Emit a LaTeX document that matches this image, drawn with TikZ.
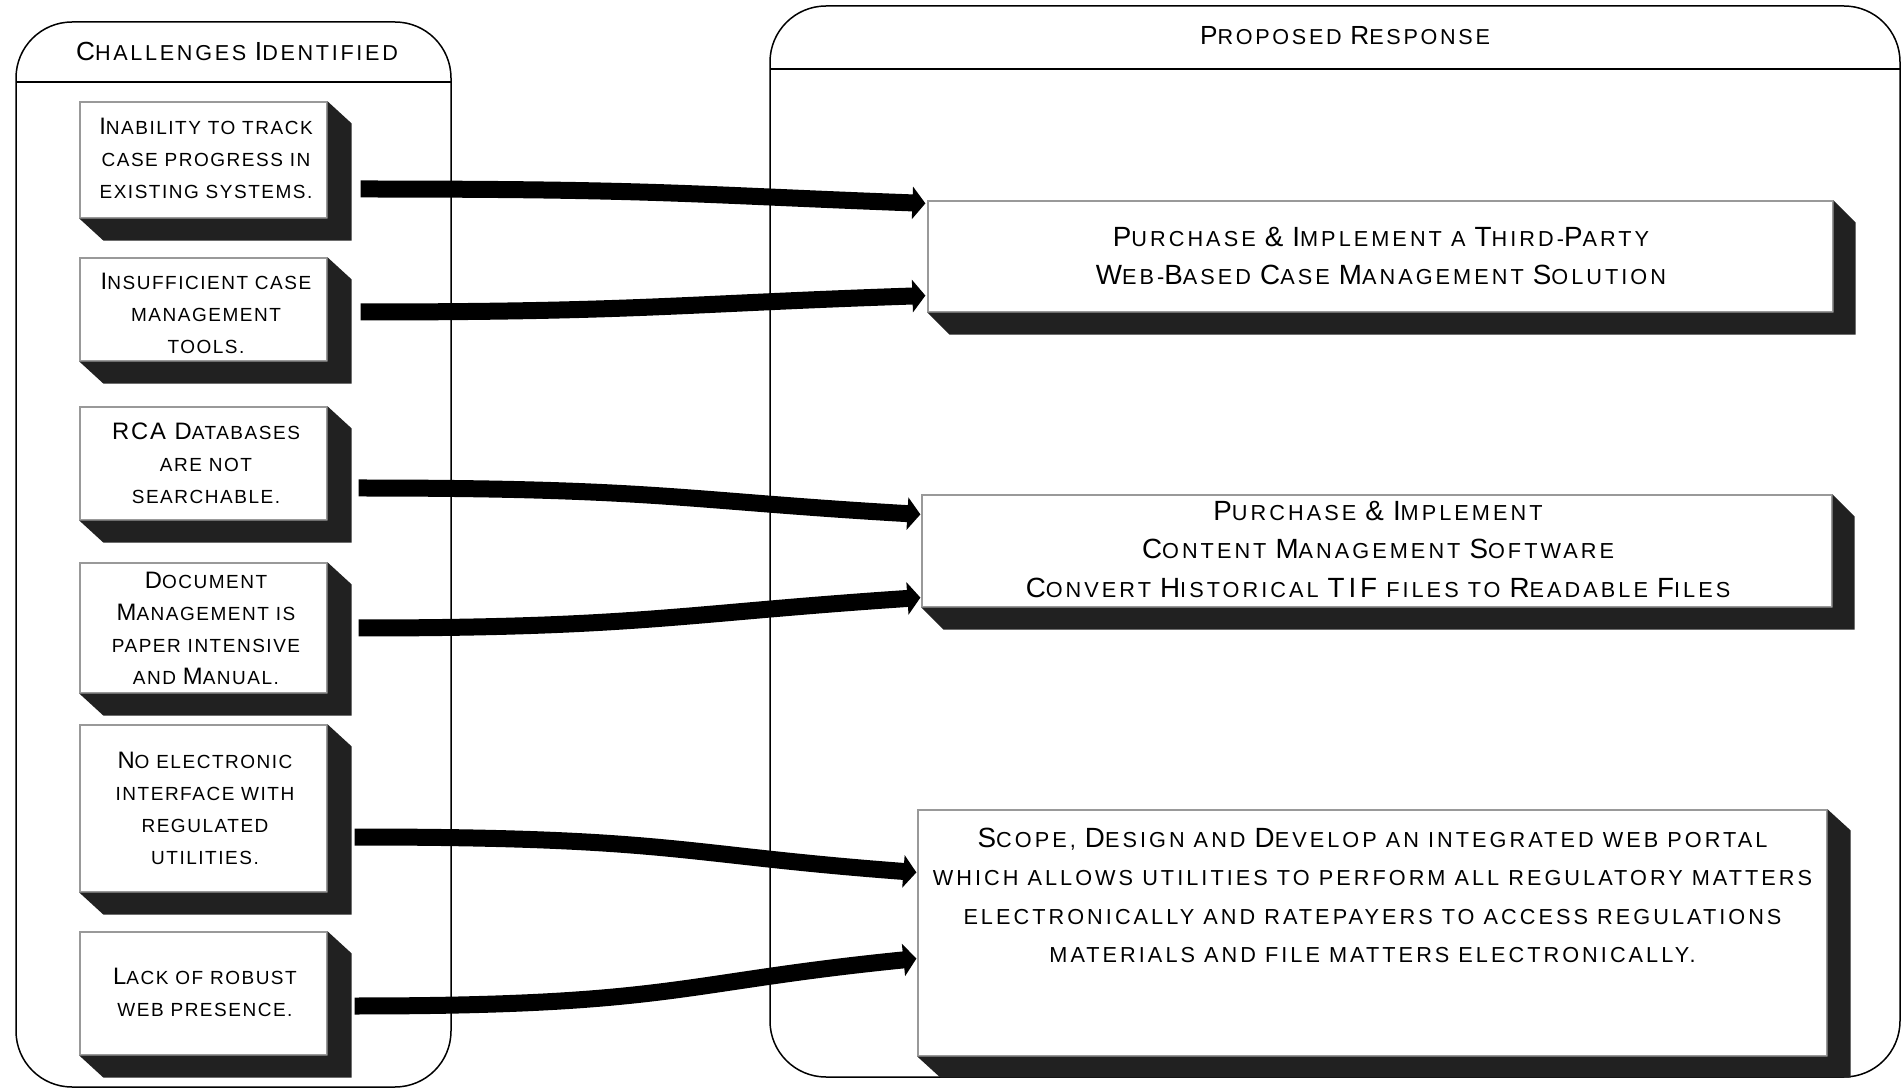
\documentclass[tikz,border=0pt]{standalone}
\usepackage{fontspec}
\setmainfont{Liberation Sans}
\newfontfamily\fLeft[LetterSpace=8]{Liberation Sans}
\newfontfamily\fRight[LetterSpace=14]{Liberation Sans}
\newfontfamily\fTitle[LetterSpace=12.5]{Liberation Sans}
\usetikzlibrary{arrows.meta,calc,fit}
\newcommand\BC[1]{{\fontsize{\bcsz}{\baselineskip}\selectfont #1}}
\def\bcsz{12}
\newcommand\xtbox[3]{%
  \fill[extr] (#1.north east) -- ($(#1.north east)+(#2,#3)$) -- ($(#1.south east)+(#2,#3)$) -- ($(#1.south west)+(#2,#3)$) -- (#1.south west) -- (#1.south east) -- cycle;}
\tikzset{
  panel/.style={draw=black, line width=0.75pt, rounded corners=28pt, inner sep=0pt},
  face/.style={draw=black!40, line width=0.6pt, fill=white, inner sep=0pt},
  lefttext/.style={align=center, font={\fLeft\def\bcsz{11.9}\fontsize{9.5}{16}\selectfont}},
  righttext/.style={align=center, font={\fRight\def\bcsz{13.9}\fontsize{10.85}{19.3}\selectfont}},
  titletext/.style={font={\fTitle\def\bcsz{13.1}\fontsize{10.8}{14}\selectfont}},
  extr/.style={fill=black!87},
  arr/.style={line width=8.5pt, -{Triangle[width=16pt,length=6.5pt]}},
}
\begin{document}
\begin{tikzpicture}[x=0.5pt,y=-0.5pt]
\useasboundingbox (0,0) rectangle (1902,1090);
\fill[white] (0,0) rectangle (1902,1090);
% panels
\node[panel, fit={(16,22) (451,1087)}] (lp) {};
\draw[line width=0.75pt] (16,82) -- (451,82);
\node[titletext] (lt) at (237,51) {\BC{C}HALLENGES \BC{I}DENTIFIED};
\node[panel, fit={(770,6) (1900,1077)}] (rp) {};
\draw[line width=0.75pt] (770,69) -- (1900,69);
\node[titletext] (rt) at (1345,36) {\BC{P}ROPOSED \BC{R}ESPONSE};
% left boxes
\node[face, fit={(80,102) (327,218)}] (b1) {};
\node[face, fit={(80,258) (327,361)}] (b2) {};
\node[face, fit={(80,407) (327,520)}] (b3) {};
\node[face, fit={(80,563) (327,693)}] (b4) {};
\node[face, fit={(80,725) (327,892)}] (b5) {};
\node[face, fit={(80,932) (327,1055)}] (b6) {};
\foreach \n in {b1,b2,b3,b4,b5,b6} {\xtbox{\n}{24}{22}}
\node[lefttext] (t1) at (206,158.5) {\BC{I}NABILITY TO TRACK\\CASE PROGRESS IN\\EXISTING SYSTEMS.};
\node[lefttext] (t2) at (206,313) {\BC{I}NSUFFICIENT CASE\\MANAGEMENT\\TOOLS.};
\node[lefttext] (t3) at (206,463) {\BC{RCA D}ATABASES\\ARE NOT\\SEARCHABLE.};
\node[lefttext] (t4) at (206,628) {\BC{D}OCUMENT\\\BC{M}ANAGEMENT IS\\PAPER INTENSIVE\\AND \BC{M}ANUAL.};
\node[lefttext] (t5) at (205,808.5) {\BC{N}O ELECTRONIC\\INTERFACE WITH\\REGULATED\\UTILITIES.};
\node[lefttext] (t6) at (205,992) {\BC{L}ACK OF ROBUST\\WEB PRESENCE.};
% right boxes
\node[face, fit={(928,201) (1833,312)}] (r1) {};
\node[face, fit={(922,495) (1832,607)}] (r2) {};
\node[face, fit={(918,810) (1827,1056)}] (r3) {};
\xtbox{r1}{22}{22}
\xtbox{r2}{22}{22}
\xtbox{r3}{23}{21}
\node[righttext] (r1t) at (1381,256) {\BC{P}URCHASE \BC{\&} \BC{I}MPLEMENT A \BC{T}HIRD-\BC{P}ARTY\\\BC{W}EB-\BC{B}ASED \BC{C}ASE \BC{M}ANAGEMENT \BC{S}OLUTION};
\node[righttext] (r2t) at (1378,549.5) {\BC{P}URCHASE \BC{\&} \BC{I}MPLEMENT\\\BC{C}ONTENT \BC{M}ANAGEMENT \BC{S}OFTWARE\\\BC{C}ONVERT \BC{H}ISTORICAL \BC{TIF} FILES TO \BC{R}EADABLE \BC{F}ILES};
\node[righttext] (r3t) at ($(r3.north)+(0,86)$) {\BC{S}COPE, \BC{D}ESIGN AND \BC{D}EVELOP AN INTEGRATED WEB PORTAL\\WHICH ALLOWS UTILITIES TO PERFORM ALL REGULATORY MATTERS\\ELECTRONICALLY AND RATEPAYERS TO ACCESS REGULATIONS\\MATERIALS AND FILE MATTERS ELECTRONICALLY.};
% arrows
\draw[arr] ($(b1.east)+(33,29)$) .. controls +(300,0) and +(-240,-9) .. ($(r1.north west)+(-2,3)$);
\draw[arr] ($(b2.east)+(33,2.5)$) .. controls +(280,0) and +(-240,8) .. ($(r1.south west)+(-2,-17)$);
\draw[arr] ($(b3.east)+(31,24.5)$) .. controls +(300,0) and +(-240,-14) .. ($(r2.north west)+(-1,20)$);
\draw[arr] ($(b4.east)+(31,0)$) .. controls +(280,0) and +(-240,16) .. ($(r2.south west)+(-1,-10)$);
\draw[arr] ($(b5.east)+(27,28.5)$) .. controls +(320,0) and +(-240,-18) .. ($(r3.north west)+(-1,63)$);
\draw[arr] ($(b6.east)+(27,12.5)$) .. controls +(320,0) and +(-240,24) .. ($(r3.south west)+(-1,-98)$);
\end{tikzpicture}
\end{document}
